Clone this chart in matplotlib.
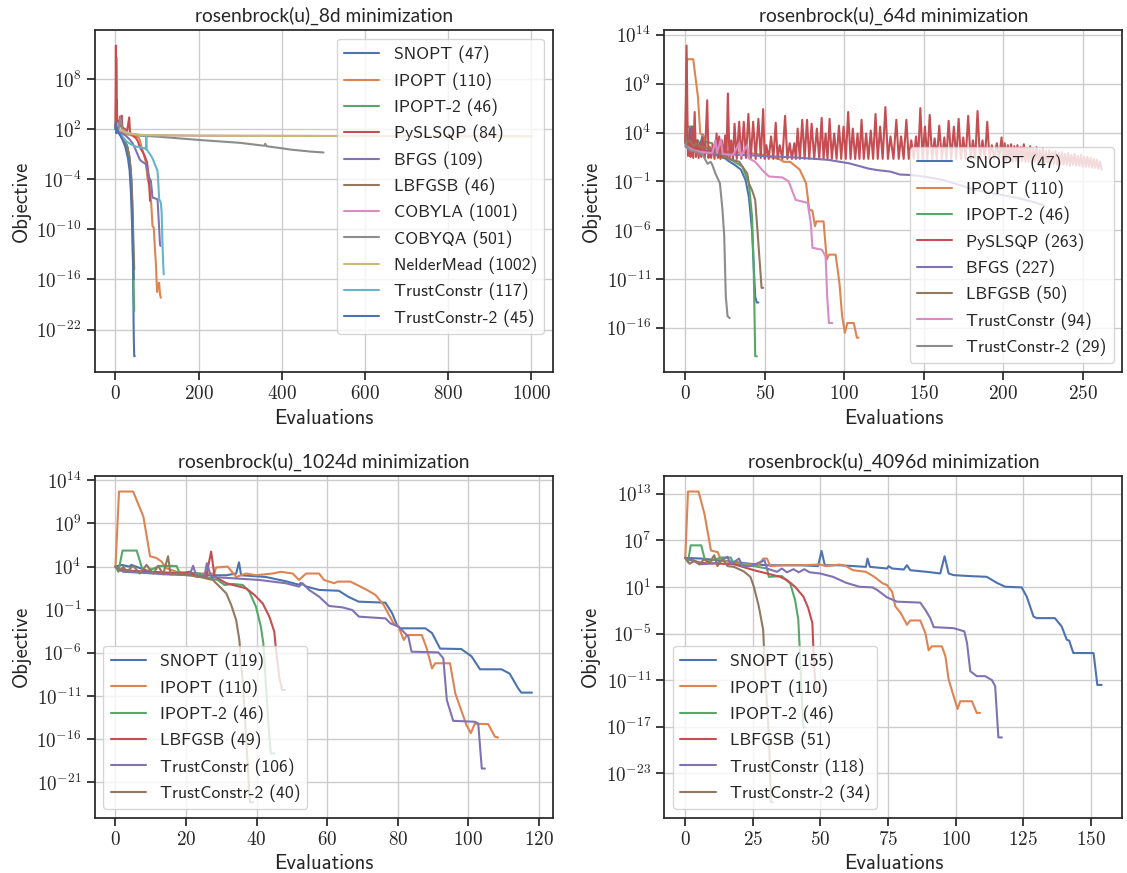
import numpy as np
import matplotlib
matplotlib.use('Agg')
import matplotlib.pyplot as plt
import seaborn as sns
from matplotlib.ticker import FuncFormatter, NullLocator

# each series: (evaluation, log10 objective) pairs

# ---- rosenbrock(u)_8d ----
snopt_8d = [(0, 2.0), (1, 2.6), (2, 1.6), (3, 2.2), (5, 1.8), (8, 1.6), (12, 1.3), (16, 1.0),
            (21, 0.7), (25, 0.3), (29, -0.2), (33, -1.2), (36, -2.6), (38, -4.0), (40, -6.6),
            (41, -9.5), (42, -13.8), (43, -19.0), (44, -23.0), (45, -25.2), (46, -25.2)]
ipopt_8d = [(0, 2.0), (1, 5.0), (2, 10.6), (3, 8.0), (4, 3.0), (5, 2.2), (8, 1.8), (15, 1.6),
            (25, 1.4), (35, 1.3), (42, 1.2), (47, 1.0), (52, 1.1), (57, 0.9), (63, -0.2), (69, -1.2),
            (73, -2.0), (77, -3.9), (82, -5.0), (86, -7.0), (89, -9.6), (92, -9.8), (95, -12.5),
            (97, -14.0), (100, -17.5), (102, -16.6), (105, -16.4), (107, -17.8), (109, -18.2)]
ipopt2_8d = [(0, 2.0), (2, 2.6), (4, 1.8), (10, 1.5), (20, 0.8), (28, 0.0), (33, -1.5), (37, -3.5),
             (40, -7.0), (42, -11.0), (43, -15.0), (44, -18.0), (45, -19.8)]
slsqp_8d = [(0, 2.0), (1, 12.0), (2, 3.0), (3, 5.5), (4, 2.5), (6, 3.0), (8, 2.2), (11, 3.5),
            (13, 2.3), (15, 3.6), (17, 2.0), (20, 2.1), (28, 1.8), (33, 3.4), (35, 1.5), (40, 1.3),
            (48, 1.0), (53, 0.6), (60, -0.3), (66, -0.8), (70, -1.2), (76, -2.0), (80, -3.8),
            (82, -5.5), (83, -6.6)]
bfgs_8d = [(0, 2.0), (3, 2.3), (6, 1.7), (15, 1.5), (25, 1.2), (35, 0.7), (41, 0.3), (47, -0.3),
           (53, -1.0), (58, -1.6), (61, -1.8), (67, -2.0), (73, -2.2), (77, -3.0), (81, -3.8),
           (85, -4.2), (89, -6.2), (95, -6.3), (101, -6.4), (104, -9.0), (107, -11.8), (108, -12.0)]
lbfgsb_8d = [(0, 2.0), (2, 2.4), (5, 1.8), (10, 1.4), (20, 0.7), (28, -0.2), (33, -1.2), (37, -3.0),
             (40, -6.0), (42, -9.5), (44, -13.0), (45, -14.8)]
cobyla_8d = [(0, 2.0), (5, 2.7), (10, 1.9), (30, 1.5), (60, 1.3), (200, 1.2), (1000, 1.15)]
cobyqa_8d = [(0, 2.0), (8, 2.2), (12, 3.4), (16, 2.0), (30, 1.5), (60, 1.2), (100, 1.1), (200, 0.7),
             (300, 0.35), (358, 0.0), (360, 0.25), (363, -0.05), (400, -0.3), (420, -0.45),
             (440, -0.55), (470, -0.7), (500, -0.8)]
nelder_8d = [(0, 2.0), (3, 2.4), (8, 1.8), (15, 1.9), (25, 1.6), (40, 1.4), (60, 1.3), (100, 1.25),
             (300, 1.2), (600, 1.15), (1001, 1.1)]
trust_8d = [(0, 2.0), (2, 2.3), (5, 1.6), (15, 1.2), (25, 0.6), (30, 0.4), (40, 0.1), (50, -0.1),
            (60, -0.2), (70, -0.3), (73, -0.4), (74, 1.1), (75, -0.4), (77, -0.6), (83, -1.0),
            (89, -1.5), (93, -2.0), (97, -2.5), (101, -3.0), (103, -4.5), (105, -6.4), (109, -6.8),
            (111, -8.0), (113, -11.8), (115, -14.5), (116, -15.4)]
trust2_8d = [(0, 2.0), (1, 2.8), (2, 1.5), (4, 2.2), (7, 1.6), (12, 1.2), (18, 0.6), (24, -0.2),
             (30, -1.5), (34, -3.0), (37, -5.5), (40, -9.5), (42, -13.5), (44, -16.0)]
labels_8d = ['SNOPT (47)', 'IPOPT (110)', 'IPOPT-2 (46)', 'PySLSQP (84)', 'BFGS (109)',
             'LBFGSB (46)', 'COBYLA (1001)', 'COBYQA (501)', 'NelderMead (1002)',
             'TrustConstr (117)', 'TrustConstr-2 (45)']

# ---- rosenbrock(u)_64d ----
snopt_64d = [(0, 2.9), (2, 2.5), (3, 4.6), (4, 2.5), (6, 2.2), (9, 2.4), (11, 3.8), (12, 2.2),
             (17, 2.0), (22, 1.7), (28, 1.0), (31, 0.7), (35, 0.2), (38, -0.9), (40, -2.6),
             (42, -6.0), (43, -9.5), (44, -12.8), (45, -13.4), (46, -13.4)]
ipopt_64d = [(0, 3.2), (1, 11.5), (5, 11.5), (8, 7.6), (9.4, 3.9), (12, 3.6), (13, 2.4), (20, 2.1),
             (30, 2.0), (40, 1.9), (50, 1.7), (53, 1.5), (59, 1.3), (62, 1.0), (66, 1.0), (72, 0.2),
             (76, -1.2), (78, -3.9), (80, -4.0), (81.6, -5.6), (82.5, -5.1), (87, -5.1), (89, -9.0),
             (90.4, -8.5), (94.6, -8.5), (97, -11.4), (98.7, -14.8), (100.4, -16.5), (102, -15.5),
             (106, -15.5), (108, -17.0), (109, -17.0)]
ipopt2_64d = [(0, 3.0), (1, 4.6), (5, 4.6), (6, 2.9), (8, 3.2), (10, 2.6), (12, 3.1), (14, 3.0),
              (17, 2.9), (18, 2.0), (21, 1.5), (28, 1.3), (36, 0.5), (40, -1.2), (42, -4.6),
              (43, -9.4), (44, -18.9), (45, -18.9)]
slsqp_64d = [(0, 3.0), (0.8, 12.9), (1.7, 1.6), (2.5, 3.2), (3.3, 1.5), (4.2, 4.6), (5.0, 1.4),
             (5.9, 6.1), (6.7, 1.5), (7.5, 3.2), (8.4, 1.4), (9.2, 2.9), (10.0, 1.5), (10.9, 3.4),
             (12.3, 1.4), (13.8, 7.3), (14.6, 1.4), (15.5, 2.5), (16.3, 1.4), (17.2, 2.7),
             (18.4, 1.3), (19.7, 3.9), (20.5, 1.4), (21.3, 3.6), (22.1, 1.3), (23.0, 3.2),
             (24.0, 1.4), (25.1, 3.7), (25.9, 1.3), (26.8, 8.0), (27.8, 1.3), (28.9, 3.2),
             (30.0, 1.3), (31.0, 4.9), (32.4, 1.3), (33.9, 5.1), (35.3, 1.3), (36.8, 5.1),
             (38.2, 1.4), (39.7, 5.9), (41.2, 1.3), (42.7, 5.1), (44.3, 1.3), (46.0, 5.4),
             (47.5, 1.4), (49.0, 6.4), (50.0, 1.3), (51.0, 2.7), (52.5, 1.3), (54.0, 3.6),
             (55.4, 1.3), (56.9, 5.0), (58.1, 1.3), (59.4, 2.7), (61.1, 1.3), (62.8, 5.7),
             (64.2, 1.3), (65.7, 2.9), (67.1, 1.3), (68.6, 2.9), (69.6, 1.3), (70.7, 4.4),
             (72.1, 1.3), (73.6, 5.3), (75.1, 1.3), (76.6, 5.3), (78.0, 1.3), (79.5, 4.9),
             (81.1, 1.3), (82.8, 4.4), (84.3, 1.3), (85.8, 5.5), (87.0, 1.3), (88.3, 3.9),
             (89.5, 1.3), (90.8, 5.4), (92.2, 1.3), (93.7, 3.9), (95.2, 1.3), (96.7, 4.7),
             (98.1, 1.3), (99.6, 4.6), (101.0, 1.3), (102.5, 6.1), (104.0, 1.3), (105.4, 4.4),
             (106.9, 1.3), (108.4, 3.9), (109.6, 1.3), (110.9, 5.3), (112.3, 1.3), (113.8, 3.9),
             (115.2, 1.3), (116.7, 4.2), (118.2, 1.3), (119.7, 5.9), (121.1, 1.3), (122.6, 4.6),
             (124.2, 1.3), (125.9, 6.6), (127.5, 1.3), (129.1, 3.6), (131.0, 1.3), (132.8, 5.3),
             (134.3, 1.3), (135.8, 3.6), (137.4, 1.3), (139.1, 5.3), (140.6, 1.3), (142.2, 3.2),
             (143.7, 1.3), (145.2, 3.6), (146.5, 1.3), (147.9, 6.5), (149.3, 1.3), (150.8, 4.6),
             (152.3, 1.3), (153.8, 5.8), (155.3, 1.3), (156.9, 3.4), (158.3, 1.3), (159.8, 4.7),
             (161.4, 1.3), (163.0, 3.5), (164.3, 1.3), (165.7, 5.2), (167.3, 1.3), (169.0, 4.6),
             (170.5, 1.3), (172.0, 5.4), (173.4, 1.3), (174.9, 3.5), (176.4, 1.3), (178.0, 5.7),
             (179.5, 1.3), (181.0, 3.2), (182.4, 1.3), (183.9, 6.2), (185.4, 1.3), (187.0, 3.2),
             (188.5, 1.3), (190.0, 5.1), (191.4, 1.3), (192.9, 2.7), (194.4, 1.3), (196.0, 2.9),
             (197.5, 1.3), (199.0, 3.5), (200.0, 1.2), (201, 2.9), (202, 1.1), (203, 2.7),
             (204, 1.2), (205, 2.8), (206, 1.0), (207, 2.6), (208, 1.1), (209, 2.7), (210, 1.0),
             (211, 2.5), (212, 1.1), (213, 2.8), (214, 1.0), (215, 2.4), (216, 1.0), (217, 2.6),
             (218, 0.9), (219, 2.3), (220, 1.0), (221, 2.5), (222, 0.9), (223, 2.2), (224, 0.9),
             (225, 2.4), (226, 0.8), (227, 2.1), (228, 0.9), (229, 2.2), (230, 0.8), (231, 2.0),
             (232, 0.8), (233, 2.1), (234, 0.7), (235, 1.9), (236, 0.8), (237, 2.0), (238, 0.7),
             (239, 1.8), (240, 0.7), (241, 1.9), (242, 0.6), (243, 1.7), (244, 0.7), (245, 1.8),
             (246, 0.6), (247, 1.6), (248, 0.6), (249, 1.7), (250, 0.5), (251, 1.5), (252, 0.5),
             (253, 1.5), (254, 0.5), (255, 1.4), (256, 0.4), (257, 1.3), (258, 0.4), (259, 1.2),
             (260, 0.3), (261, 1.0), (262, 0.2)]
bfgs_64d = [(0, 2.6), (3, 2.2), (10, 2.0), (17, 1.85), (30, 1.75), (48.5, 1.6), (69, 1.45),
            (90, 1.2), (103, 0.85), (115.5, 0.3), (121, 0.15), (129, 0.0), (135, -0.3),
            (142, -0.35), (150, -0.5), (162, -0.85), (175, -1.5), (183, -1.9), (196, -2.3),
            (209, -2.7), (221, -3.2), (226, -3.5)]
lbfgsb_64d = [(0, 2.9), (3, 3.2), (5, 2.6), (7, 2.9), (10, 2.5), (15, 2.4), (20, 2.0), (27.6, 1.3),
              (34, 1.0), (36, 0.5), (39, -0.2), (40, -1.2), (42, -1.9), (44, -2.9), (45.4, -6.0),
              (46.9, -9.4), (48, -11.9), (49, -11.9)]
trust_64d = [(0, 2.7), (5, 2.2), (10, 2.0), (17, 1.9), (19, 3.2), (20, 1.9), (22.4, 3.3),
             (23.5, 1.8), (30, 1.7), (34, 2.9), (35, 1.6), (39, 2.7), (40, 1.35), (44, 1.0),
             (48.5, 0.15), (52.7, -0.5), (61, -0.6), (65, -1.0), (69.5, -2.9), (77, -3.2),
             (79, -5.3), (80, -7.8), (86, -8.0), (88.3, -8.7), (89.3, -12.8), (90.4, -15.5),
             (92.5, -15.5)]
trust2_64d = [(0, 2.9), (2.5, 2.2), (7, 2.0), (11, 1.7), (14, 0.8), (16, 1.0), (17, 0.7),
              (19, -0.2), (21.8, -1.2), (23.4, -3.9), (24.5, -6.6), (25.5, -12.8), (26.6, -14.8),
              (28, -15.0)]
labels_64d = ['SNOPT (47)', 'IPOPT (110)', 'IPOPT-2 (46)', 'PySLSQP (263)', 'BFGS (227)',
              'LBFGSB (50)', 'TrustConstr (94)', 'TrustConstr-2 (29)']

# ---- rosenbrock(u)_1024d ----
snopt_1024d = [(0, 4.0), (1.7, 4.2), (4, 4.0), (4.5, 4.2), (9.8, 3.4), (14.5, 3.2), (23.9, 3.0),
               (31.4, 3.0), (34.2, 3.2), (35, 4.5), (35.6, 3.0), (42.6, 2.8), (48.3, 2.3),
               (52, 1.9), (52.5, 2.1), (54, 1.7), (57.7, 1.3), (63.3, 1.2), (66, 0.5),
               (68.9, -0.06), (76.5, -0.18), (78.4, -1.4), (79.8, -2.8), (80.7, -3.15),
               (87.8, -3.15), (89.7, -3.7), (92, -5.5), (98, -5.55), (100.9, -6.4), (103.3, -7.9),
               (109.4, -7.9), (111.7, -8.4), (114.1, -10.1), (115, -10.6), (118, -10.6)]
ipopt_1024d = [(0, 4.0), (1, 12.7), (5, 12.7), (7.9, 9.8), (9.8, 5.2), (11.6, 5.0), (13, 4.6),
               (14.5, 3.8), (17.3, 3.4), (23.9, 3.2), (28, 3.2), (28.5, 3.9), (31.8, 4.0),
               (34.2, 2.8), (37, 3.2), (39.8, 3.0), (44.5, 3.2), (46.9, 3.4), (50.2, 3.2),
               (52, 2.45), (54, 3.2), (57.7, 3.2), (59.1, 2.45), (62, 2.07), (62.9, 2.26),
               (66.6, 2.26), (68.5, 1.87), (71.3, 1.29), (73.7, 0.71), (76, -0.45), (77.5, -1.6),
               (78.8, -2.57), (80.2, -2.96), (81.7, -4.5), (82.6, -3.93), (86.8, -3.93),
               (88.2, -5.47), (89.7, -7.8), (90.6, -7.2), (94.8, -7.2), (96.3, -10.7),
               (98.1, -12.8), (99.5, -14.4), (100.7, -15.3), (101.8, -14.2), (105.6, -14.25),
               (107.5, -15.7), (108.4, -15.8)]
ipopt2_1024d = [(0, 4.0), (0.8, 3.4), (2, 5.86), (6, 5.86), (7.4, 4.0), (7.9, 3.3), (12.6, 4.08),
                (17.3, 4.08), (18.2, 3.23), (23.9, 3.2), (26.7, 2.65), (29, 2.45), (30.9, 1.87),
                (33.3, 1.99), (36.1, 1.87), (37.9, 1.1), (39.8, -0.64), (41.2, -2.96),
                (41.9, -4.9), (42.6, -9.53), (43.4, -14.56), (44, -17.65), (45, -17.65)]
lbfgsb_1024d = [(0, 4.0), (1, 3.7), (5, 3.5), (10, 3.4), (19.2, 3.23), (21, 3.42), (22.9, 2.84),
                (25.7, 2.84), (27.1, 5.74), (28.1, 2.84), (31.4, 2.07), (35.1, 1.68), (37, 1.49),
                (39.4, 0.71), (41.7, -0.25), (43.6, -1.8), (45, -3.54), (45.5, -5.67),
                (46.4, -8.76), (47.2, -10.3), (48, -10.3)]
trust_1024d = [(0, 4.0), (2.2, 3.4), (6.9, 3.3), (14.5, 3.1), (21, 3.0), (22, 4.1), (22.9, 2.9),
               (25.2, 2.9), (25.9, 4.4), (27.1, 2.8), (33.3, 2.65), (40.8, 2.45), (44.5, 2.26),
               (48.3, 2.07), (52, 1.68), (53, 2.07), (54.9, 1.29), (57.7, 0.52), (60.5, -0.56),
               (64.3, -0.72), (67.1, -1.03), (69, -1.8), (76.5, -2.0), (77.9, -2.57),
               (80.2, -2.96), (83, -4.12), (83.9, -5.86), (91.5, -5.94), (92.9, -6.63),
               (93.9, -11.47), (95.7, -13.87), (101.9, -13.98), (102.8, -14.2), (103.8, -19.4),
               (104.7, -19.4)]
trust2_1024d = [(0, 4.0), (1.3, 3.5), (2.2, 4.0), (3.2, 3.4), (5, 4.1), (6.9, 3.2), (8.8, 4.2),
                (10.7, 3.2), (12.1, 4.1), (13.5, 3.1), (14.9, 5.2), (15.6, 3.1), (17.3, 3.2),
                (23.9, 2.8), (27.6, 2.45), (29.5, 1.68), (31.4, 0.9), (32.8, -0.45), (34.2, -2.2),
                (35.1, -4.5), (36.1, -9.5), (37, -15.7), (38.1, -23.3), (39, -23.3)]
labels_1024d = ['SNOPT (119)', 'IPOPT (110)', 'IPOPT-2 (46)', 'LBFGSB (49)',
                'TrustConstr (106)', 'TrustConstr-2 (40)']

# ---- rosenbrock(u)_4096d ----
snopt_4096d = [(0, 4.75), (5.9, 4.67), (18, 4.24), (25.4, 3.94), (30.2, 3.81), (42.4, 3.81),
               (49.1, 3.69), (50.4, 5.65), (51.6, 3.81), (57.1, 3.81), (66.8, 3.6), (67.4, 4.67),
               (68.3, 3.6), (74.6, 3.39), (75.2, 3.69), (76.5, 3.39), (80.8, 3.26), (82, 3.81),
               (83.2, 3.17), (89.4, 2.96), (94.3, 2.75), (95.9, 4.97), (97.4, 2.75), (99.2, 2.54),
               (105.4, 2.41), (111.5, 2.32), (115.2, 1.55), (118.3, 1.04), (124.4, 0.96),
               (126.3, -0.24), (128.8, -2.8), (130, -3.0), (136.7, -3.0), (139.2, -4.07),
               (141.1, -5.78), (142, -5.9), (143.5, -7.49), (151, -7.5), (152.4, -11.6), (154, -11.6)]
ipopt_4096d = [(0, 4.75), (1, 13.3), (4.9, 13.3), (7.1, 10.4), (9.5, 5.7), (12, 5.5), (13.2, 4.45),
               (18, 4.1), (22.9, 3.94), (27.2, 3.81), (28.8, 4.67), (30.2, 4.67), (31.5, 3.69),
               (36.3, 3.81), (42.4, 3.81), (49.8, 3.9), (52.2, 3.69), (57.1, 3.9), (59.5, 3.69),
               (62, 3.17), (66.8, 2.96), (69.9, 2.32), (72.9, 1.5), (74.6, 1.26), (76.5, 0.4),
               (77.7, -1.5), (79.6, -2.3), (82, -3.86), (83.2, -3.3), (86.9, -3.3), (88.8, -4.93),
               (90, -7.14), (91.2, -6.63), (94.9, -6.63), (96.2, -7.9), (97.4, -10.9),
               (99.2, -13.0), (100.7, -14.7), (101.7, -13.7), (106, -13.7), (107.8, -15.2),
               (109, -15.2)]
ipopt2_4096d = [(0, 4.75), (1, 4.2), (2, 6.37), (5.9, 6.37), (7.3, 4.45), (8.9, 4.3), (13.2, 4.8),
                (16.8, 4.8), (18, 3.94), (25.4, 3.69), (30.2, 3.39), (30.9, 2.32), (35.7, 2.41),
                (38.8, 1.47), (40.6, -0.66), (41.8, -3.2), (42.4, -7.5), (43, -12.6),
                (43.7, -17.08), (44.3, -17.08)]
lbfgsb_4096d = [(0, 4.75), (5.9, 4.1), (18, 3.94), (25.4, 3.17), (30.2, 2.75), (35.1, 2.32),
                (37.6, 1.9), (40.6, 1.04), (43.7, -0.24), (45.5, -1.73), (47, -3.65), (47.3, -6.2),
                (47.9, -10.5), (48.5, -12.2), (50, -12.2)]
trust_4096d = [(0, 4.75), (5.9, 3.94), (12, 4.1), (15.6, 4.9), (16.8, 3.94), (19.9, 4.67),
               (21.1, 3.69), (24.1, 3.69), (29.3, 4.45), (30.2, 3.39), (33.9, 2.96), (35.7, 3.39),
               (37.6, 2.9), (40, 3.3), (42, 2.9), (44, 3.3), (46, 2.9), (49.8, 2.75), (54.6, 2.32),
               (59.5, 1.55), (64.4, 1.04), (69.3, 0.96), (71, 0.62), (74.6, -0.32), (78.3, -0.88),
               (86.9, -1.0), (88.8, -1.94), (90.6, -3.0), (91.9, -4.16), (99.2, -4.29),
               (103.2, -4.7), (104.2, -6.2), (105.4, -9.83), (107.8, -10.47), (110.9, -10.47),
               (113.4, -10.98), (114.6, -11.75), (115.8, -18.36), (117.1, -18.36)]
trust2_4096d = [(0, 4.75), (1.6, 4.0), (3.4, 4.4), (5.2, 3.9), (7, 4.6), (8.9, 4.1), (10.7, 5.1),
                (11.9, 3.7), (13.8, 4.6), (15.6, 3.7), (18, 3.6), (21.7, 3.0), (24.1, 2.3),
                (25.4, 1.0), (27.2, -1.5), (28.8, -4.5), (29.6, -10.5), (30.9, -18.1),
                (31.7, -26.7), (32.4, -26.7)]
labels_4096d = ['SNOPT (155)', 'IPOPT (110)', 'IPOPT-2 (46)', 'LBFGSB (51)',
                'TrustConstr (118)', 'TrustConstr-2 (34)']

sns.set_theme(context='notebook', style='ticks', font_scale=1.25, rc={'axes.grid': True})
plt.rcParams['font.family'] = ['cmss10', 'DejaVu Sans']
plt.rcParams['mathtext.fontset'] = 'cm'
plt.rcParams['axes.unicode_minus'] = False

fig, axes = plt.subplots(2, 2, figsize=(11.27, 8.73), dpi=100)
fig.subplots_adjust(left=0.084, right=0.996, top=0.9656, bottom=0.0633, wspace=0.244, hspace=0.305)

panels = [
    (axes[0, 0], 'rosenbrock(u)_8d minimization',
     [snopt_8d, ipopt_8d, ipopt2_8d, slsqp_8d, bfgs_8d, lbfgsb_8d, cobyla_8d, cobyqa_8d,
      nelder_8d, trust_8d, trust2_8d], labels_8d,
     [8, 2, -4, -10, -16, -22], [0, 200, 400, 600, 800, 1000], 'upper right'),
    (axes[0, 1], 'rosenbrock(u)_64d minimization',
     [snopt_64d, ipopt_64d, ipopt2_64d, slsqp_64d, bfgs_64d, lbfgsb_64d, trust_64d, trust2_64d],
     labels_64d, [14, 9, 4, -1, -6, -11, -16], [0, 50, 100, 150, 200, 250], 'lower right'),
    (axes[1, 0], 'rosenbrock(u)_1024d minimization',
     [snopt_1024d, ipopt_1024d, ipopt2_1024d, lbfgsb_1024d, trust_1024d, trust2_1024d],
     labels_1024d, [14, 9, 4, -1, -6, -11, -16, -21], [0, 20, 40, 60, 80, 100, 120], 'lower left'),
    (axes[1, 1], 'rosenbrock(u)_4096d minimization',
     [snopt_4096d, ipopt_4096d, ipopt2_4096d, lbfgsb_4096d, trust_4096d, trust2_4096d],
     labels_4096d, [13, 7, 1, -5, -11, -17, -23], [0, 25, 50, 75, 100, 125, 150], 'lower left'),
]

for ax, title, series, labels, yexp, xt, loc in panels:
    for pts, lab in zip(series, labels):
        x, y = zip(*pts)
        ax.plot(x, 10.0 ** np.array(y), label=lab)
    ax.set_yscale('log')
    ax.set_yticks([10.0 ** e for e in yexp])
    ax.yaxis.set_minor_locator(NullLocator())
    ax.yaxis.set_major_formatter(FuncFormatter(lambda v, p: r'$10^{%d}$' % round(np.log10(v))))
    ax.set_xticks(xt)
    ax.xaxis.set_major_formatter(FuncFormatter(lambda v, p: r'$%d$' % v))
    # cmss10 has no real underscore glyph, so the title uses Lato
    ax.set_title(title, family='Lato', fontsize=13.8)
    ax.set_xlabel('Evaluations')
    ax.set_ylabel('Objective')
    ax.legend(loc=loc, fontsize=12.7)

fig.savefig('out.png', dpi=100)
